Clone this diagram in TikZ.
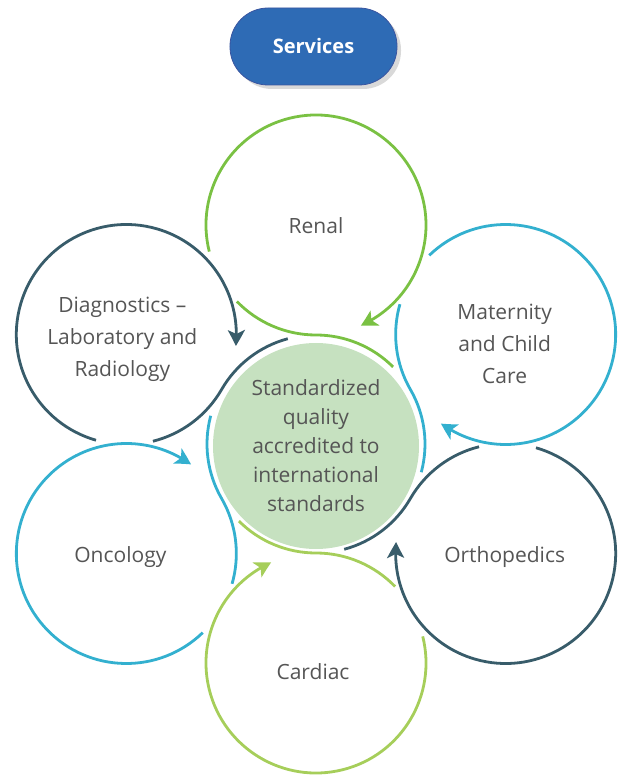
\documentclass[tikz,border=0pt]{standalone}
\usepackage{fontspec}
\setmainfont{Open Sans}
\usetikzlibrary{arrows.meta,bending,shadows,calc}

\definecolor{renalgreen}{HTML}{7AC143}
\definecolor{cardiacgreen}{HTML}{A6CE5A}
\definecolor{careblue}{HTML}{33B0CF}
\definecolor{slate}{HTML}{385C6A}
\definecolor{hubfill}{HTML}{C6E1C0}
\definecolor{labelgray}{HTML}{555555}
\definecolor{buttonblue}{HTML}{2E6BB5}
\definecolor{buttonedge}{HTML}{3A55A0}

\tikzset{
  ring/.style={line width=2.8pt},
  ringtip/.style={-{Stealth[length=16pt,width=17pt,inset=4pt,bend]}},
  service/.style={text=labelgray, font=\fontsize{21}{32}\selectfont, align=center},
}

\begin{document}
\begin{tikzpicture}[x=1pt,y=1pt]
            \useasboundingbox (-316,-332) rectangle (308,444);

            % Title button
            \node[rounded corners=38pt, minimum width=167pt, minimum height=77pt,
                  fill=buttonblue, draw=buttonedge, line width=0.8pt,
                  drop shadow={shadow xshift=4pt, shadow yshift=-4pt, opacity=0.3},
                  text=white, font=\fontsize{20}{24}\selectfont\bfseries] (title) at (-2.5,397.5) {Services};

            % Hub in the middle
            \node[circle, fill=hubfill, minimum size=206pt, inner sep=0pt, text=labelgray,
                  font=\fontsize{21}{29}\selectfont, align=center] (hub) at (0,-2)
                  {Standardized\\quality\\accredited to\\international\\standards};

            % Six services round the hub
            \foreach \ang/\col/\name/\txt/\dx/\dy in {
                90/renalgreen/renal/{Renal}/0/-1,
                30/careblue/maternity/{Maternity\\and Child\\Care}/-1/-9,
                -30/slate/orthopedics/{Orthopedics}/-1/-4,
                -90/cardiacgreen/cardiac/{Cardiac}/-3/-9,
                -150/careblue/oncology/{Oncology}/-6/-4,
                150/slate/diagnostics/{Diagnostics --\\Laboratory and\\Radiology}/-4/-5}{
                \coordinate (\name) at (\ang:219);
                \draw[ring,ringtip,\col] ($(\name)+(\ang+104:110)$)
                    arc[start angle=\ang+104, end angle=\ang-156, radius=110]; % outer loop
                \draw[ring,\col] (\ang-45:109) arc[start angle=\ang-45, end angle=\ang, radius=109]
                    arc[start angle=\ang+180, end angle=\ang+134, radius=110]; % tail round hub
                \node[service] (\name-label) at ($(\name)+(\dx,\dy)$) {\txt};
            }
\end{tikzpicture}
\end{document}
